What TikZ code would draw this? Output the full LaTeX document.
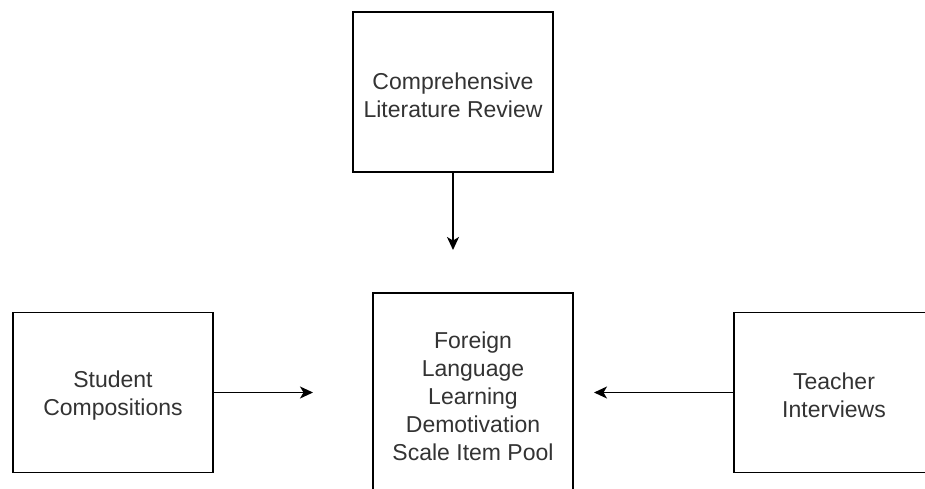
\documentclass[tikz,border=0pt]{standalone}
\usepackage{fontspec}
\newfontfamily\boxfont{Liberation Sans}
\usetikzlibrary{arrows.meta}
\definecolor{txtgray}{HTML}{333333}
% tall strut on the first line lowers each text block a little
\newcommand\firstline{\rule{0pt}{23pt}}
\tikzset{
  box/.style={draw=black, line width=1.5pt, fill=white, minimum width=200pt,
    minimum height=160pt, inner sep=0pt, align=center, text=txtgray,
    font=\boxfont\fontsize{23}{28}\selectfont},
  link/.style={draw=black, line width=1.5pt,
    -{Stealth[length=13pt,width=12pt,inset=3.5pt]}}
}
\begin{document}
\begin{tikzpicture}[x=1pt,y=1pt]
  \useasboundingbox (0,0) rectangle (925,488);
  \clip (0,0) rectangle (925,488);
  % source boxes
  \node[box] (review) at (453,396) {\firstline Comprehensive\\Literature Review};
  \node[box] (student) at (113,95.5) {\firstline Student\\Compositions};
  \node[box] (teacher) at (834,95.5) {\firstline Teacher\\Interviews};
  % central item pool, taller and running past the lower edge
  \node[box, minimum height=200pt] (pool) at (473,95)
    {\firstline Foreign\\Language\\Learning\\Demotivation\\Scale Item Pool};
  % arrow tips stop short of the central box
  \coordinate (topend) at (453,238);
  \coordinate (leftend) at (313,95.5);
  \coordinate (rightend) at (594,95.5);
  \draw[link] (review.south) -- (topend);
  \draw[link] (student.east) -- (leftend);
  \draw[link] (teacher.west) -- (rightend);
\end{tikzpicture}
\end{document}
